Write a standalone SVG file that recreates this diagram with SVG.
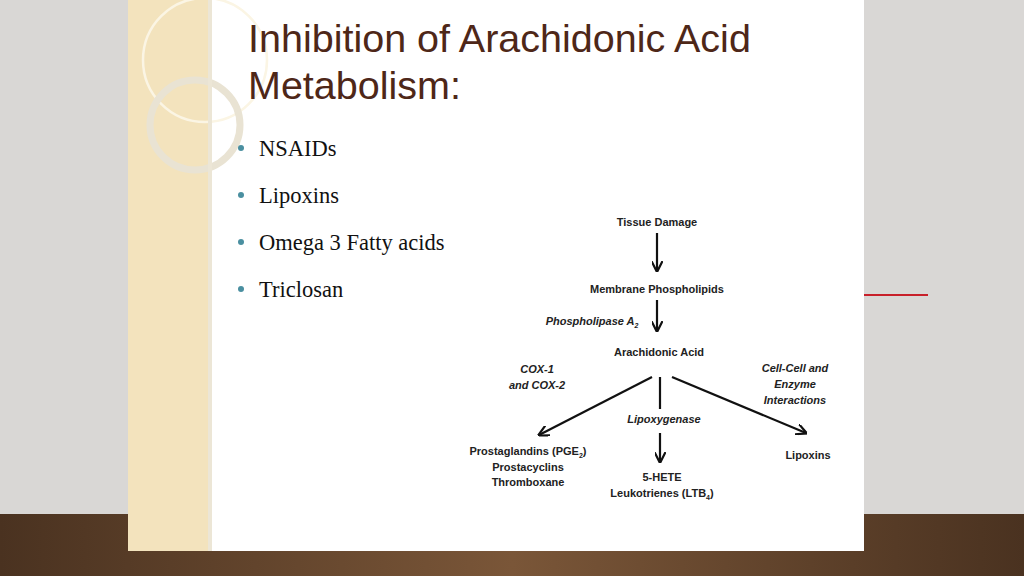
<svg xmlns="http://www.w3.org/2000/svg" width="1024" height="576" viewBox="0 0 1024 576">
<defs>
<style>
.d{font-family:"Liberation Sans",Arial,sans-serif;font-size:11px;font-weight:bold;fill:#222;text-anchor:middle}
.i{font-style:italic}
.b{font-family:"Liberation Serif","Times New Roman",serif;font-size:22.5px;fill:#111}
.t{font-family:"Liberation Sans",Arial,sans-serif;font-size:39.5px;fill:#4e2718}
.c{stroke:#111;stroke-width:2.2;fill:none}
</style>
<marker id="a" viewBox="0 0 10 10" refX="9" refY="5" markerWidth="5" markerHeight="5" orient="auto"><path d="M0,0 L10,5 L0,10" fill="none" stroke="#111" stroke-width="2"/></marker>
<linearGradient id="fl" x1="0" y1="0" x2="1" y2="0"><stop offset="0" stop-color="#4a3220"/><stop offset="0.5" stop-color="#7a5638"/><stop offset="1" stop-color="#4a3220"/></linearGradient>
</defs>
<rect width="1024" height="576" fill="#d9d7d5"/>
<rect y="514" width="1024" height="62" fill="url(#fl)"/>
<line x1="864" y1="295" x2="928" y2="295" stroke="#c8202a" stroke-width="2"/>
<rect x="128" y="0" width="736" height="551" fill="#fff"/>
<rect x="128" y="0" width="80" height="551" fill="#f3e3bd"/>
<g fill="none" stroke="#fbf5e4" stroke-width="2.5"><circle cx="205" cy="60" r="62"/></g>
<g fill="none" stroke="#e9e3d3" stroke-width="7"><circle cx="195" cy="125" r="45"/></g>
<rect x="208" y="0" width="4" height="551" fill="#ece6d6"/>
<g id="title"><text class="t" x="248" y="52">Inhibition of Arachidonic Acid</text><text class="t" x="248" y="99">Metabolism:</text></g>
<g id="bullets" fill="#4a8fa0"><circle cx="241" cy="148" r="3"/><circle cx="241" cy="195" r="3"/><circle cx="241" cy="242" r="3"/><circle cx="241" cy="289" r="3"/>
<text class="b" x="259" y="156">NSAIDs</text><text class="b" x="259" y="203">Lipoxins</text><text class="b" x="259" y="250">Omega 3 Fatty acids</text><text class="b" x="259" y="297">Triclosan</text></g>
<g id="connectors">
<line class="c" x1="657" y1="233" x2="657" y2="271" marker-end="url(#a)"/>
<line class="c" x1="657" y1="300" x2="657" y2="331" marker-end="url(#a)"/>
<line class="c" x1="652" y1="377" x2="539" y2="435" marker-end="url(#a)"/>
<line class="c" x1="660" y1="377" x2="660" y2="409"/>
<line class="c" x1="660" y1="433" x2="660" y2="462" marker-end="url(#a)"/>
<line class="c" x1="672" y1="377" x2="806" y2="433" marker-end="url(#a)"/>
</g>
<g id="tissue"><text class="d" x="657" y="226">Tissue Damage</text></g>
<g id="membrane"><text class="d" x="657" y="293">Membrane Phospholipids</text></g>
<g id="pla2"><text class="d i" x="592" y="325">Phospholipase A<tspan font-size="7" dy="3">2</tspan></text></g>
<g id="aa"><text class="d" x="659" y="356">Arachidonic Acid</text></g>
<g id="cox"><text class="d i" x="537" y="373">COX-1</text><text class="d i" x="537" y="389">and COX-2</text></g>
<g id="cell"><text class="d i" x="795" y="372">Cell-Cell and</text><text class="d i" x="795" y="388">Enzyme</text><text class="d i" x="795" y="404">Interactions</text></g>
<g id="lox"><text class="d i" x="664" y="423">Lipoxygenase</text></g>
<g id="pg"><text class="d" x="528" y="455">Prostaglandins (PGE<tspan font-size="7" dy="3">2</tspan><tspan dy="-3">)</tspan></text><text class="d" x="528" y="471">Prostacyclins</text><text class="d" x="528" y="486">Thromboxane</text></g>
<g id="lt"><text class="d" x="662" y="481">5-HETE</text><text class="d" x="662" y="497">Leukotrienes (LTB<tspan font-size="7" dy="3">4</tspan><tspan dy="-3">)</tspan></text></g>
<g id="lipoxins"><text class="d" x="808" y="459">Lipoxins</text></g>
</svg>
